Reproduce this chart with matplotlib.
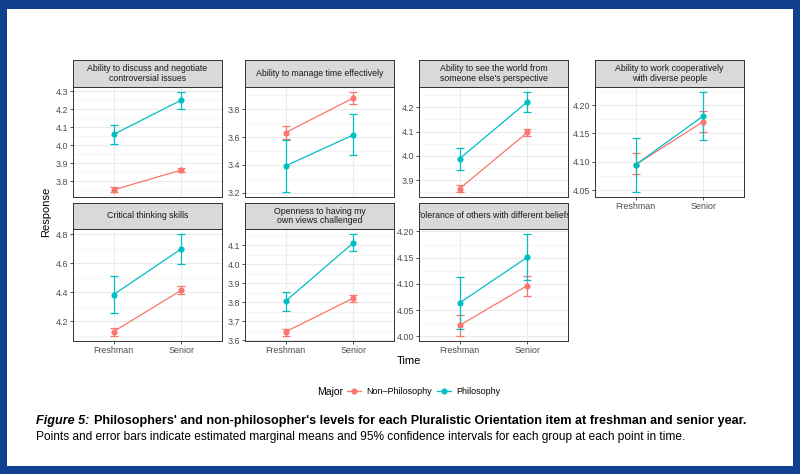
import numpy as np
import matplotlib
matplotlib.use('Agg')
import matplotlib.pyplot as plt
from matplotlib.lines import Line2D
from matplotlib.patches import Rectangle
from matplotlib.ticker import MultipleLocator, FormatStrFormatter

plt.rcParams['font.family'] = ['Liberation Sans', 'DejaVu Sans']

times = ['Freshman', 'Senior']

items = ['Ability to discuss and negotiate\ncontroversial issues',
         'Ability to manage time effectively',
         "Ability to see the world from\nsomeone else's perspective",
         'Ability to work cooperatively\nwith diverse people',
         'Critical thinking skills',
         'Openness to having my\nown views challenged',
         'Tolerance of others with different beliefs']

# estimated marginal means and 95% CI, (Freshman, Senior)
non_mean = [[3.752, 3.862], [3.633, 3.882], [3.866, 4.097], [4.095, 4.171],
            [4.128, 4.414], [3.644, 3.821], [4.021, 4.097]]
non_lo = [[3.740, 3.850], [3.590, 3.840], [3.852, 4.081], [4.079, 4.153],
          [4.098, 4.386], [3.622, 3.802], [4.001, 4.077]]
non_hi = [[3.765, 3.875], [3.678, 3.925], [3.880, 4.112], [4.115, 4.190],
          [4.153, 4.442], [3.658, 3.839], [4.041, 4.116]]

phil_mean = [[4.060, 4.250], [3.393, 3.616], [3.989, 4.223], [4.095, 4.181],
             [4.384, 4.700], [3.805, 4.112], [4.064, 4.151]]
phil_lo = [[4.005, 4.200], [3.205, 3.470], [3.942, 4.182], [4.047, 4.139],
           [4.253, 4.598], [3.751, 4.067], [4.015, 4.107]]
phil_hi = [[4.110, 4.295], [3.580, 3.770], [4.034, 4.263], [4.142, 4.223],
           [4.512, 4.802], [3.854, 4.158], [4.114, 4.195]]

y_steps = [0.1, 0.2, 0.1, 0.05, 0.2, 0.1, 0.05]

col_non = '#F8766D'
col_phil = '#00BFC4'
grey20 = '#333333'
grey30 = '#4D4D4D'

W, H = 800, 474
fig = plt.figure(figsize=(W / 100, H / 100), dpi=100)
fig.patch.set_facecolor('#10408F')
fig.add_artist(Rectangle((7 / W, 1 - 466 / H), 786 / W, 457 / H,
                         transform=fig.transFigure, facecolor='white',
                         edgecolor='none', zorder=-5))


def px_axes(x0, y0, x1, y1):
    return fig.add_axes([x0 / W, 1 - y1 / H, (x1 - x0) / W, (y1 - y0) / H])


lefts = [73, 245, 419, 595]
pw = 149
rows = [(60, 87, 197), (203, 229, 341)]

for i, item in enumerate(items):
    r, c = divmod(i, 4)
    st, pt, pb = rows[r]
    x0 = lefts[c]
    ax = px_axes(x0, pt, x0 + pw, pb)
    sax = px_axes(x0, st, x0 + pw, pt)

    # strip
    sax.set_facecolor('#D9D9D9')
    sax.set_xticks([])
    sax.set_yticks([])
    for s in sax.spines.values():
        s.set_color(grey20)
        s.set_linewidth(0.7)
    sax.text(0.5, 0.5, item, ha='center', va='center', fontsize=6.3,
             color='#1A1A1A', linespacing=1.1, transform=sax.transAxes,
             clip_on=True)

    x = np.arange(len(times))
    for mean, lo, hi, col in [(non_mean, non_lo, non_hi, col_non),
                              (phil_mean, phil_lo, phil_hi, col_phil)]:
        m = np.array(mean[i])
        err = [m - np.array(lo[i]), np.array(hi[i]) - m]
        ax.plot(x, m, '-', color=col, lw=0.9, zorder=3)
        ax.errorbar(x, m, yerr=err, fmt='o', color=col, ms=3.4, elinewidth=0.9,
                    capsize=2.6, capthick=0.9, zorder=4)

    lo_all = min(min(non_lo[i]), min(phil_lo[i]))
    hi_all = max(max(non_hi[i]), max(phil_hi[i]))
    pad = (hi_all - lo_all) * 0.05
    ax.set_ylim(lo_all - pad, hi_all + pad)
    ax.set_xlim(-0.6, 1.6)

    step = y_steps[i]
    ax.yaxis.set_major_locator(MultipleLocator(step))
    ax.yaxis.set_minor_locator(MultipleLocator(step / 2))
    ax.yaxis.set_major_formatter(FormatStrFormatter('%.2f' if step < 0.1 else '%.1f'))
    ax.set_xticks(x)
    ax.grid(True, which='major', color='#EBEBEB', lw=0.8, zorder=0)
    ax.grid(True, which='minor', axis='y', color='#F2F2F2', lw=0.5, zorder=0)
    ax.set_axisbelow(True)
    for s in ax.spines.values():
        s.set_color(grey20)
        s.set_linewidth(0.7)
    ax.tick_params(axis='both', which='major', length=2.2, width=0.6,
                   color=grey20, labelsize=6.4, labelcolor=grey30, pad=1.5)
    ax.tick_params(axis='y', which='minor', length=0)
    if r == 0 and c < 3:
        ax.set_xticklabels([])
        ax.tick_params(axis='x', length=0)
    else:
        ax.set_xticklabels(times)

fig.text(46 / W, 1 - 212 / H, 'Response', rotation=90, ha='center',
         va='center', fontsize=8.0, color='black')
fig.text(409 / W, 1 - 361 / H, 'Time', ha='center', va='center',
         fontsize=8.0, color='black')

# legend
fig.text(330 / W, 1 - 392 / H, 'Major', ha='center', va='center',
         fontsize=7.5, color='black')
handles = [Line2D([], [], color=col_non, marker='o', ms=3.4, lw=0.9),
           Line2D([], [], color=col_phil, marker='o', ms=3.4, lw=0.9)]
fig.legend(handles, ['Non\u2013Philosophy', 'Philosophy'], ncol=2,
           loc='center left', bbox_to_anchor=(347 / W, 1 - 392 / H),
           frameon=False, fontsize=6.5, handlelength=1.6, handletextpad=0.5,
           columnspacing=0.6, borderaxespad=0, borderpad=0)

# caption
t1 = fig.text(36 / W, 1 - 421 / H, 'Figure 5:', ha='left', va='center',
              fontsize=9.1, fontweight='bold', style='italic')
fig.canvas.draw()
bb = t1.get_window_extent()
fig.text(bb.x1 / W + 5 / W, 1 - 421 / H,
         "Philosophers' and non-philosopher's levels for each Pluralistic "
         "Orientation item at freshman and senior year.",
         ha='left', va='center', fontsize=9.1, fontweight='bold')
fig.text(36 / W, 1 - 437 / H,
         'Points and error bars indicate estimated marginal means and 95% '
         'confidence intervals for each group at each point in time.',
         ha='left', va='center', fontsize=8.6)

fig.savefig('out.png', dpi=100, facecolor=fig.get_facecolor())
